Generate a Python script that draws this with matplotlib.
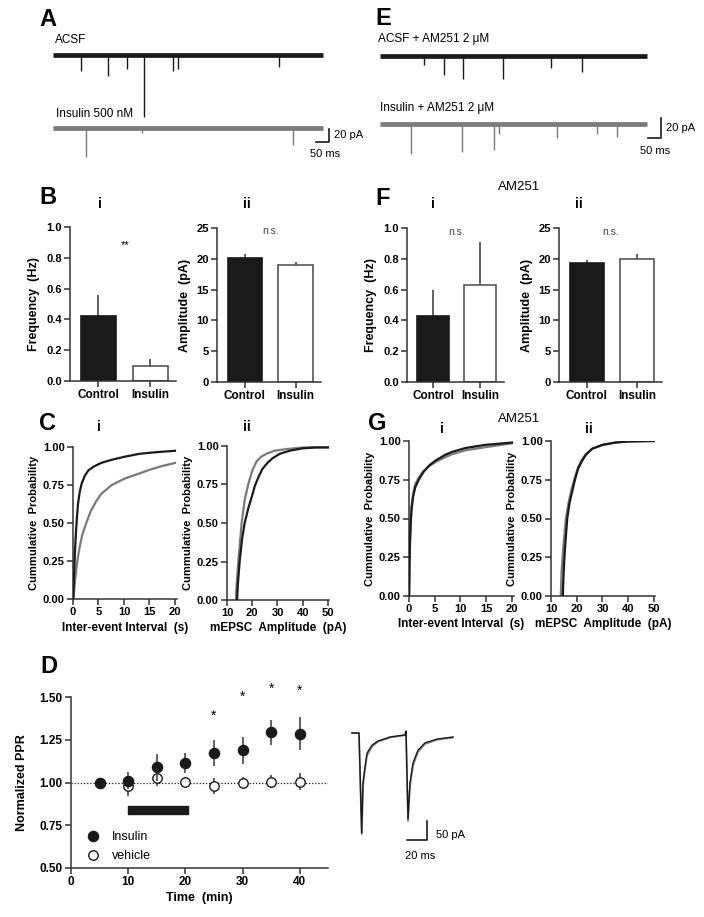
import numpy as np
import matplotlib.pyplot as plt

plt.rcParams['font.family'] = ['Liberation Sans', 'DejaVu Sans']
plt.rcParams['font.weight'] = 'bold'
plt.rcParams['axes.labelweight'] = 'bold'

W, H = 704, 917

# ---------------- data ----------------
groups = ['Control', 'Insulin']

# B: control slices
freq_B = [0.42, 0.10]
freq_B_sem = [0.14, 0.04]
amp_B = [20.2, 19.0]
amp_B_sem = [0.6, 0.55]

# F: with AM251
freq_F = [0.43, 0.63]
freq_F_sem = [0.17, 0.28]
amp_F = [19.3, 20.0]
amp_F_sem = [0.45, 0.85]

# C i: inter-event interval cumulative (s)
iei_ctrl_x = [0.05, 0.2, 0.4, 0.6, 0.8, 1.0, 1.3, 1.7, 2.3, 3.0, 4.0, 5.5, 7.5, 10, 13, 16, 20]
iei_ctrl_y = [0, 0.15, 0.32, 0.45, 0.55, 0.63, 0.70, 0.76, 0.81, 0.845, 0.87, 0.895, 0.915, 0.935, 0.955, 0.965, 0.975]
iei_ins_x = [0.1, 0.4, 0.85, 1.3, 1.8, 2.6, 3.5, 4.5, 5.5, 7.6, 10, 12.5, 15, 17.5, 20]
iei_ins_y = [0, 0.12, 0.25, 0.34, 0.42, 0.5, 0.58, 0.64, 0.69, 0.75, 0.79, 0.82, 0.85, 0.875, 0.895]

# C ii: amplitude cumulative (pA)
amp_ctrl_x = [14, 14.3, 15, 16, 17, 18.5, 20, 21, 22.5, 24, 26, 28, 31, 35, 40, 45, 50]
amp_ctrl_y = [0, 0.1, 0.25, 0.4, 0.5, 0.6, 0.68, 0.74, 0.8, 0.85, 0.89, 0.92, 0.95, 0.97, 0.985, 0.99, 0.99]
amp_ins_x = [13.5, 13.8, 14.5, 15, 15.8, 17, 18.4, 20, 21.7, 23.5, 25.7, 29, 33.6, 40, 50]
amp_ins_y = [0, 0.1, 0.25, 0.35, 0.5, 0.65, 0.75, 0.84, 0.9, 0.93, 0.95, 0.97, 0.98, 0.99, 0.995]

# G i / ii: with AM251
am_iei_x = [0.02, 0.1, 0.2, 0.35, 0.5, 0.8, 1.2, 1.9, 2.8, 4, 5.2, 7, 8.4, 11, 14.8, 20]
am_iei_ctrl_y = [0, 0.2, 0.35, 0.48, 0.56, 0.64, 0.7, 0.75, 0.8, 0.845, 0.875, 0.91, 0.93, 0.955, 0.975, 0.99]
am_iei_ins_y = [0, 0.22, 0.38, 0.5, 0.58, 0.66, 0.72, 0.765, 0.805, 0.84, 0.865, 0.895, 0.915, 0.94, 0.96, 0.985]
am_amp_ctrl_x = [14.6, 14.9, 15.4, 16.3, 17.2, 18.3, 19.3, 20.5, 22, 23.5, 26, 30, 35, 40, 50]
am_amp_ins_x = [13.8, 14.1, 14.7, 15.8, 16.8, 18, 19.2, 20.5, 22, 23.5, 26, 30, 35, 40, 50]
am_amp_ctrl_y = [0, 0.15, 0.3, 0.5, 0.6, 0.68, 0.75, 0.82, 0.87, 0.91, 0.95, 0.975, 0.99, 0.997, 1.0]
am_amp_ins_y = [0, 0.15, 0.3, 0.5, 0.6, 0.69, 0.76, 0.83, 0.88, 0.915, 0.95, 0.975, 0.99, 0.997, 1.0]

# D: normalized PPR
time_min = [5, 10, 15, 20, 25, 30, 35, 40]
ppr_insulin = [1.00, 1.01, 1.088, 1.113, 1.174, 1.188, 1.293, 1.285]
ppr_insulin_sem = [0, 0.05, 0.078, 0.06, 0.076, 0.078, 0.074, 0.097]
ppr_vehicle = [1.00, 0.977, 1.025, 1.005, 0.98, 0.995, 1.005, 1.005]
ppr_vehicle_sem = [0, 0.055, 0.045, 0.02, 0.045, 0.035, 0.04, 0.05]
sig_times = [25, 30, 35, 40]
sig_levels = [1.41, 1.52, 1.57, 1.56]
insulin_on, insulin_off = 10, 20.5

# example PPR sweeps (ms, pA)
ppr_t = [0, 7, 9.7, 11, 13, 15, 20, 26, 38, 53, 54, 56, 58, 61, 66, 73, 85, 101]
ppr_black = [0, 0, -263, -131, -89, -53, -32, -21, -10.5, -5, 5, -226, -131, -79, -45, -26, -16, -10.5]
ppr_gray = [0, 0, -266, -140, -96, -60, -36, -23, -12, -6, 4, -232, -140, -86, -50, -29, -18, -12]

# mEPSC example traces: event times (ms) and amplitudes (pA)
A1_times = [110, 217, 291, 358, 472, 492, 890]
A1_amps = [24, 33, 22, 96, 25, 22, 18]
A2_times = [130, 350, 946]
A2_amps = [45, 8, 26]
A_len = 1063
E1_times = [169, 248, 318, 472, 658, 778]
E1_amps = [9, 19, 23, 23, 12, 16]
E2_times = [119, 316, 438, 458, 681, 835, 912]
E2_amps = [30, 28, 26, 10, 14, 10, 13]
E_len = 1028

BLACK = '#1a1a1a'
GRAY = '#7a7a7a'
AX = '#333333'

fig = plt.figure(figsize=(W / 100, H / 100), dpi=100)


def px_axes(x0, y0, x1, y1):
    return fig.add_axes([x0 / W, 1 - y1 / H, (x1 - x0) / W, (y1 - y0) / H])


def px_text(x, y, s, **kw):
    kw.setdefault('va', 'baseline')
    fig.text(x / W, 1 - y / H, s, **kw)


def prism(ax, size=8):
    for side in ['top', 'right']:
        ax.spines[side].set_visible(False)
    for side in ['left', 'bottom']:
        ax.spines[side].set_linewidth(1.1)
        ax.spines[side].set_color(AX)
    ax.tick_params(direction='out', length=4, width=1.1, color=AX,
                   labelsize=size, pad=2)


def trace_axes(rect, origin, ms_px, pa_px):
    x0, y0, x1, y1 = rect
    ox, oy = origin
    ax = px_axes(x0, y0, x1, y1)
    ax.set_xlim((x0 - ox) * ms_px, (x1 - ox) * ms_px)
    ax.set_ylim(-(y1 - oy) * pa_px, (oy - y0) * pa_px)
    ax.axis('off')
    return ax


def mepsc(ax, times, amps, length, color):
    ax.plot([0, length], [0, 0], color=color, lw=3.4, solid_capstyle='butt')
    ax.vlines(times, 0, -np.array(amps), color=color, lw=1.0)


def scalebar(ax, x, y, dx, dy):
    ax.plot([x - dx, x, x], [y, y, y + dy], color=BLACK, lw=1.2,
            clip_on=False)


# ---------------- A / E traces ----------------
axA1 = trace_axes((40, 30, 350, 165), (53, 55), 3.94, 1.54)
mepsc(axA1, A1_times, A1_amps, A_len, BLACK)
axA2 = trace_axes((40, 30, 350, 165), (53, 128), 3.94, 1.54)
mepsc(axA2, A2_times, A2_amps, A_len, GRAY)
scalebar(axA2, 1087, -21.6, 50, 20)

axE1 = trace_axes((370, 30, 700, 165), (380, 56), 3.85, 1.0)
mepsc(axE1, E1_times, E1_amps, E_len, BLACK)
axE2 = trace_axes((370, 30, 700, 165), (380, 124), 3.85, 1.0)
mepsc(axE2, E2_times, E2_amps, E_len, GRAY)
scalebar(axE2, 1082, -14, 50, 20)

px_text(39, 26, 'A', fontsize=17)
px_text(55, 42.7, 'ACSF', fontsize=8.5, weight='normal')
px_text(56, 116.7, 'Insulin 500 nM', fontsize=8.5, weight='normal')
px_text(334, 138, '20 pA', fontsize=8, weight='normal')
px_text(310, 157, '50 ms', fontsize=8, weight='normal')
px_text(375, 25, 'E', fontsize=17)
px_text(378, 42.3, 'ACSF + AM251 2 \u03bcM', fontsize=8.5, weight='normal')
px_text(380, 110.7, 'Insulin + AM251 2 \u03bcM', fontsize=8.5, weight='normal')
px_text(666, 131, '20 pA', fontsize=8, weight='normal')
px_text(640, 154, '50 ms', fontsize=8, weight='normal')


# ---------------- B / F bars ----------------
def bar_panel(rect, vals, sems, ylim, yticks, ylabel, fmt):
    ax = px_axes(*rect)
    prism(ax)
    x = np.arange(len(groups))
    ax.bar(x, vals, width=0.68, color=[BLACK, 'white'],
           edgecolor=[BLACK, '#555555'], linewidth=1.2, zorder=2)
    ax.errorbar(x, vals, yerr=[np.zeros(len(vals)), sems], fmt='none',
                ecolor='#444444', elinewidth=1.2, capsize=0, zorder=1)
    ax.set_xlim(-0.55, 1.5)
    ax.set_xticks(x, groups, fontsize=8.5)
    ax.set_ylim(*ylim)
    ax.set_yticks(yticks, [fmt % v for v in yticks])
    ax.set_ylabel(ylabel, fontsize=9, labelpad=4)
    return ax


bar_panel((70, 227, 176, 381), freq_B, freq_B_sem, (0, 1),
          [0, 0.2, 0.4, 0.6, 0.8, 1.0], 'Frequency  (Hz)', '%.1f')
bar_panel((217, 228, 321, 382), amp_B, amp_B_sem, (0, 25),
          [0, 5, 10, 15, 20, 25], 'Amplitude  (pA)', '%d')
bar_panel((407, 228, 504, 382), freq_F, freq_F_sem, (0, 1),
          [0, 0.2, 0.4, 0.6, 0.8, 1.0], 'Frequency  (Hz)', '%.1f')
bar_panel((559, 228, 662, 382), amp_F, amp_F_sem, (0, 25),
          [0, 5, 10, 15, 20, 25], 'Amplitude  (pA)', '%d')

px_text(39, 204, 'B', fontsize=17)
px_text(100, 208, 'i', fontsize=10, ha='center')
px_text(247, 208, 'ii', fontsize=10, ha='center')
px_text(125, 248, '**', fontsize=8, ha='center', weight='normal')
px_text(271, 234, 'n.s.', fontsize=7.5, ha='center', weight='normal', color='#444444')
px_text(375, 205, 'F', fontsize=17)
px_text(519, 190, 'AM251', fontsize=9.5, ha='center', weight='normal')
px_text(433, 208, 'i', fontsize=10, ha='center')
px_text(579, 208, 'ii', fontsize=10, ha='center')
px_text(457, 235, 'n.s.', fontsize=7.5, ha='center', weight='normal', color='#444444')
px_text(611, 235, 'n.s.', fontsize=7.5, ha='center', weight='normal', color='#444444')


# ---------------- C / G cumulative ----------------
def cdf_panel(rect, xa, ya, xb, yb, xlim, xticks, xlabel):
    ax = px_axes(*rect)
    prism(ax)
    ax.plot(xa, ya, color=BLACK, lw=1.6, zorder=3)
    ax.plot(xb, yb, color=GRAY, lw=1.6, zorder=2)
    ax.set_xlim(*xlim)
    ax.set_xticks(xticks)
    ax.set_ylim(0, 1)
    yt = [0, 0.25, 0.5, 0.75, 1.0]
    ax.set_yticks(yt, ['%.2f' % v for v in yt])
    ax.set_xlabel(xlabel, fontsize=8.5, labelpad=3)
    ax.set_ylabel('Cummulative  Probability', fontsize=8, labelpad=3)
    return ax


cdf_panel((73, 447, 177, 599), iei_ctrl_x, iei_ctrl_y, iei_ins_x, iei_ins_y,
          (0, 20.4), [0, 5, 10, 15, 20], 'Inter-event Interval  (s)')
cdf_panel((227, 446, 329, 600), amp_ctrl_x, amp_ctrl_y, amp_ins_x, amp_ins_y,
          (10, 50.4), [10, 20, 30, 40, 50], 'mEPSC  Amplitude  (pA)')
cdf_panel((409, 441, 514, 596), am_iei_x, am_iei_ctrl_y, am_iei_x, am_iei_ins_y,
          (0, 20.4), [0, 5, 10, 15, 20], 'Inter-event Interval  (s)')
cdf_panel((551, 441, 655, 596), am_amp_ctrl_x, am_amp_ctrl_y, am_amp_ins_x, am_amp_ins_y,
          (10, 50.4), [10, 20, 30, 40, 50], 'mEPSC  Amplitude  (pA)')

px_text(39, 430, 'C', fontsize=17)
px_text(99, 431, 'i', fontsize=10, ha='center')
px_text(247, 431, 'ii', fontsize=10, ha='center')
px_text(368, 430, 'G', fontsize=17)
px_text(519, 421.7, 'AM251', fontsize=9.5, ha='center', weight='normal')
px_text(442, 432.7, 'i', fontsize=10, ha='center')
px_text(589, 432.7, 'ii', fontsize=10, ha='center')

# ---------------- D: PPR time course ----------------
axD = px_axes(71, 697, 328.4, 868)
prism(axD, size=8.5)
axD.axhline(1.0, color=BLACK, lw=0.9, ls=(0, (1, 1.5)), zorder=1)
axD.broken_barh([(insulin_on, insulin_off - insulin_on)], (0.813, 0.047),
                color=BLACK, zorder=2)
axD.errorbar(time_min, ppr_vehicle, yerr=ppr_vehicle_sem, fmt='none',
             ecolor='#555555', elinewidth=1.3, capsize=0, zorder=3)
veh, = axD.plot(time_min, ppr_vehicle, 'o', ms=6.8, mfc='white', mec=BLACK,
                mew=1.0, zorder=4, label='vehicle')
axD.errorbar(time_min, ppr_insulin, yerr=ppr_insulin_sem, fmt='none',
             ecolor='#555555', elinewidth=1.3, capsize=0, zorder=5)
ins, = axD.plot(time_min, ppr_insulin, 'o', ms=7.3, mfc=BLACK, mec=BLACK,
                zorder=6, label='Insulin')
for t, lv in zip(sig_times, sig_levels):
    axD.text(t, lv - 0.045, '*', ha='center', va='baseline', fontsize=10,
             weight='normal')
axD.set_xlim(0, 45)
axD.set_ylim(0.5, 1.5)
axD.set_xticks([0, 10, 20, 30, 40])
yt = [0.5, 0.75, 1.0, 1.25, 1.5]
axD.set_yticks(yt, ['%.2f' % v for v in yt])
axD.set_xlabel('Time  (min)', fontsize=9, labelpad=3)
axD.set_ylabel('Normalized PPR', fontsize=9, labelpad=8)
axD.legend(handles=[ins, veh], loc='lower left', bbox_to_anchor=(0.062, 0.035),
           frameon=False, borderpad=0, borderaxespad=0, handlelength=1.0,
           handletextpad=1.0, labelspacing=0.55,
           prop={'size': 9, 'weight': 'normal'})
px_text(40, 673, 'D', fontsize=17)

# example sweeps
axS = trace_axes((340, 690, 480, 870), (352, 733), 1.0, 2.63)
axS.plot(ppr_t, ppr_gray, color='#8a8a8a', lw=1.3)
axS.plot(ppr_t, ppr_black, color=BLACK, lw=1.0)
scalebar(axS, 75, -281, 20, 50)
px_text(436, 838, '50 pA', fontsize=8, weight='normal')
px_text(405, 859, '20 ms', fontsize=8, weight='normal')

fig.savefig('out.png', dpi=100)
